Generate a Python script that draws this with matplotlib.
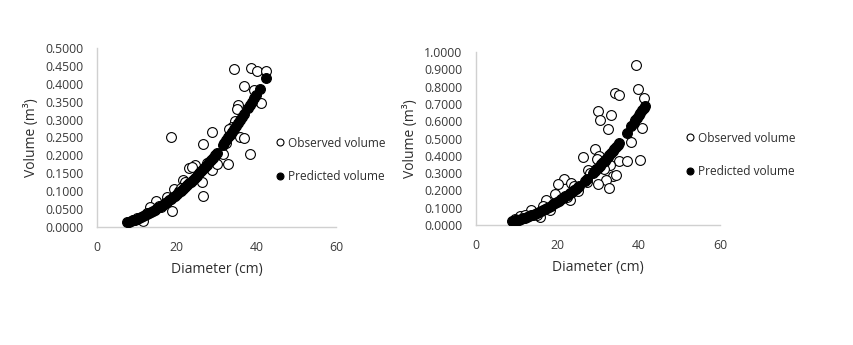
import matplotlib
matplotlib.use("Agg")
import matplotlib.pyplot as plt
from matplotlib.lines import Line2D

plt.rcParams['font.family'] = ['Open Sans', 'DejaVu Sans']

# ---------------- Left panel data ----------------
left_obs_d = [34.5, 38.7, 40.1, 42.4, 36.9, 39.4, 41.2, 35.5, 35.2, 34.7, 34.0, 33.1,
              28.8, 26.5, 35.9, 36.8, 38.3, 31.7, 33.0, 29.6, 28.8, 24.6, 23.1, 23.9,
              26.3, 26.5, 30.2, 21.7, 22.0, 18.5, 19.4, 17.5, 14.7, 13.3, 18.9, 11.6,
              20.5, 21.0, 16.0, 12.5, 10.0, 9.0, 15.5, 27.5, 32.5]
left_obs_v = [0.440, 0.445, 0.436, 0.436, 0.394, 0.383, 0.347, 0.341, 0.329, 0.297, 0.280, 0.274,
              0.264, 0.231, 0.252, 0.248, 0.204, 0.203, 0.175, 0.182, 0.159, 0.172, 0.164, 0.168,
              0.126, 0.086, 0.175, 0.131, 0.127, 0.250, 0.105, 0.085, 0.072, 0.057, 0.046, 0.017,
              0.100, 0.110, 0.055, 0.040, 0.025, 0.020, 0.060, 0.180, 0.235]

left_pred_d = [7.5, 8, 8.5, 9, 9.5, 10, 10.5, 11, 11.5, 12, 12.5, 13, 13.5, 14, 14.5, 15,
               15.5, 16, 16.5, 17, 17.5, 18, 18.5, 19, 19.5, 20, 20.5, 21, 21.5, 22, 22.5,
               23, 23.5, 24, 24.5, 25, 25.5, 26, 26.5, 27, 27.5, 28, 28.5, 29, 29.5, 30,
               31.5, 32, 32.5, 33, 33.5, 34, 34.5, 35, 35.5, 36, 36.5, 37,
               38, 38.5, 39, 39.5, 40, 41, 42.5]
left_pred_v = [0.0129, 0.0147, 0.0166, 0.0186, 0.0208, 0.0230, 0.0254, 0.0278, 0.0304, 0.0331,
               0.0359, 0.0389, 0.0419, 0.0451, 0.0484, 0.0518, 0.0553, 0.0589, 0.0626, 0.0665,
               0.0704, 0.0745, 0.0787, 0.0830, 0.0875, 0.0920, 0.0967, 0.1014, 0.1063, 0.1113,
               0.1164, 0.1217, 0.1270, 0.1325, 0.1381, 0.1438, 0.1496, 0.1555, 0.1615, 0.1677,
               0.1739, 0.1803, 0.1868, 0.1934, 0.2002, 0.2070,
               0.2282, 0.2355, 0.2429, 0.2505, 0.2581, 0.2659, 0.2738, 0.2818, 0.2899, 0.2981,
               0.3064, 0.3149,
               0.3321, 0.3409, 0.3498, 0.3589, 0.3680, 0.3866, 0.4154]

# ---------------- Right panel data ----------------
right_obs_d = [39.3, 39.8, 41.3, 34.2, 35.2, 30.1, 30.6, 33.3, 32.5, 40.8, 38.2, 29.2,
               26.3, 30.3, 35.2, 37.2, 40.4, 27.5, 32.9, 33.7, 31.4, 31.9, 30.1, 32.8,
               34.4, 27.2, 21.7, 20.2, 23.3, 19.4, 17.2, 23.1, 18.2, 15.7, 13.5, 22.3,
               25.1, 24.0, 15.0, 10.8, 12.0, 9.5, 16.5, 29.8, 28.0]
right_obs_v = [0.925, 0.784, 0.732, 0.765, 0.750, 0.659, 0.607, 0.636, 0.555, 0.559, 0.478, 0.439,
               0.392, 0.400, 0.372, 0.370, 0.376, 0.318, 0.347, 0.285, 0.322, 0.260, 0.237, 0.212,
               0.289, 0.250, 0.266, 0.235, 0.245, 0.179, 0.145, 0.145, 0.087, 0.044, 0.087, 0.164,
               0.198, 0.225, 0.060, 0.050, 0.060, 0.035, 0.110, 0.380, 0.300]

right_pred_d = [8.9, 9.3, 9.7, 10, 10.5, 11, 11.5, 12, 12.5, 13, 13.5, 14, 14.5, 15, 15.5,
                16, 16.5, 17, 17.5, 18, 18.5, 19, 19.5, 20, 20.5, 21, 21.5, 22, 22.5, 23,
                23.5, 24, 24.5, 25, 25.4, 26.8, 27.2, 28.8, 29.2, 29.6, 30, 30.4, 30.8,
                31.2, 31.6, 32, 32.4, 32.8, 33.2, 33.6, 34, 34.4, 34.8, 35.2, 37.1, 38.2,
                38.8, 39.2, 39.6, 40, 40.4, 40.8, 41.2, 41.5]
right_pred_v = [0.0215, 0.0238, 0.0261, 0.0280, 0.0312, 0.0347, 0.0383, 0.0422, 0.0462, 0.0505,
                0.0550, 0.0597, 0.0646, 0.0697, 0.0750, 0.0806, 0.0864, 0.0923, 0.0986, 0.1050,
                0.1117, 0.1186, 0.1258, 0.1331, 0.1407, 0.1486, 0.1566, 0.1650, 0.1735, 0.1823,
                0.1914, 0.2007, 0.2102, 0.2200, 0.2280, 0.2572, 0.2659, 0.3024, 0.3120, 0.3217,
                0.3315, 0.3415, 0.3517, 0.3621, 0.3726, 0.3833, 0.3942, 0.4052, 0.4164, 0.4278,
                0.4393, 0.4510, 0.4629, 0.4750, 0.5347, 0.5709, 0.5913, 0.6051, 0.6191, 0.6333,
                0.6477, 0.6622, 0.6768, 0.6880]

x_ticks = [0, 20, 40, 60]
left_y_ticks = [0.0, 0.05, 0.10, 0.15, 0.20, 0.25, 0.30, 0.35, 0.40, 0.45, 0.50]
right_y_ticks = [0.0, 0.1, 0.2, 0.3, 0.4, 0.5, 0.6, 0.7, 0.8, 0.9, 1.0]

fig = plt.figure(figsize=(8.54, 3.45), dpi=100)

TICK_COLOR = '#3a3a3a'
LABEL_COLOR = '#2e2e2e'
SPINE_COLOR = '#d0d0d0'


def style_axes(ax, yticks, ymax):
    ax.set_xlim(0, 60)
    ax.set_ylim(0, ymax)
    ax.set_xticks(x_ticks)
    ax.set_yticks(yticks)
    ax.set_yticklabels([f"{t:.4f}" for t in yticks])
    for s in ['top', 'right']:
        ax.spines[s].set_visible(False)
    for s in ['left', 'bottom']:
        ax.spines[s].set_color(SPINE_COLOR)
        ax.spines[s].set_linewidth(1.0)
    ax.tick_params(axis='both', length=0, labelsize=8.8, colors=TICK_COLOR)
    ax.tick_params(axis='y', pad=10)
    ax.tick_params(axis='x', pad=10)
    ax.set_xlabel('Diameter (cm)', fontsize=10, color=LABEL_COLOR, labelpad=6)
    ax.set_ylabel('Volume (m³)', fontsize=10, color=LABEL_COLOR, labelpad=4)


def draw(ax, od, ov, pd_, pv):
    ax.scatter(od, ov, s=50, facecolors='white', edgecolors='black', linewidths=0.8, zorder=2)
    ax.scatter(pd_, pv, s=50, facecolors='black', edgecolors='black', linewidths=0.8, zorder=3)


handles = [
    Line2D([], [], linestyle='none', marker='o', markersize=5, markerfacecolor='white',
           markeredgecolor='black', markeredgewidth=0.8, label='Observed volume'),
    Line2D([], [], linestyle='none', marker='o', markersize=5, markerfacecolor='black',
           markeredgecolor='black', markeredgewidth=0.8, label='Predicted volume'),
]

ax1 = fig.add_axes([0.1136, 0.342, 0.2799, 0.519])
draw(ax1, left_obs_d, left_obs_v, left_pred_d, left_pred_v)
style_axes(ax1, left_y_ticks, 0.5)
ax1.legend(handles=handles, loc='center left', bbox_to_anchor=(263 / 854, 1 - 160 / 345),
           bbox_transform=fig.transFigure, frameon=False, fontsize=8.6, labelspacing=1.75,
           handletextpad=0.2, handlelength=1.0, labelcolor=LABEL_COLOR)

ax2 = fig.add_axes([0.5574, 0.3478, 0.2857, 0.5014])
draw(ax2, right_obs_d, right_obs_v, right_pred_d, right_pred_v)
style_axes(ax2, right_y_ticks, 1.0)
ax2.legend(handles=handles, loc='center left', bbox_to_anchor=(673 / 854, 1 - 155 / 345),
           bbox_transform=fig.transFigure, frameon=False, fontsize=8.6, labelspacing=1.75,
           handletextpad=0.2, handlelength=1.0, labelcolor=LABEL_COLOR)

fig.savefig('out.png', dpi=100, facecolor='white')
